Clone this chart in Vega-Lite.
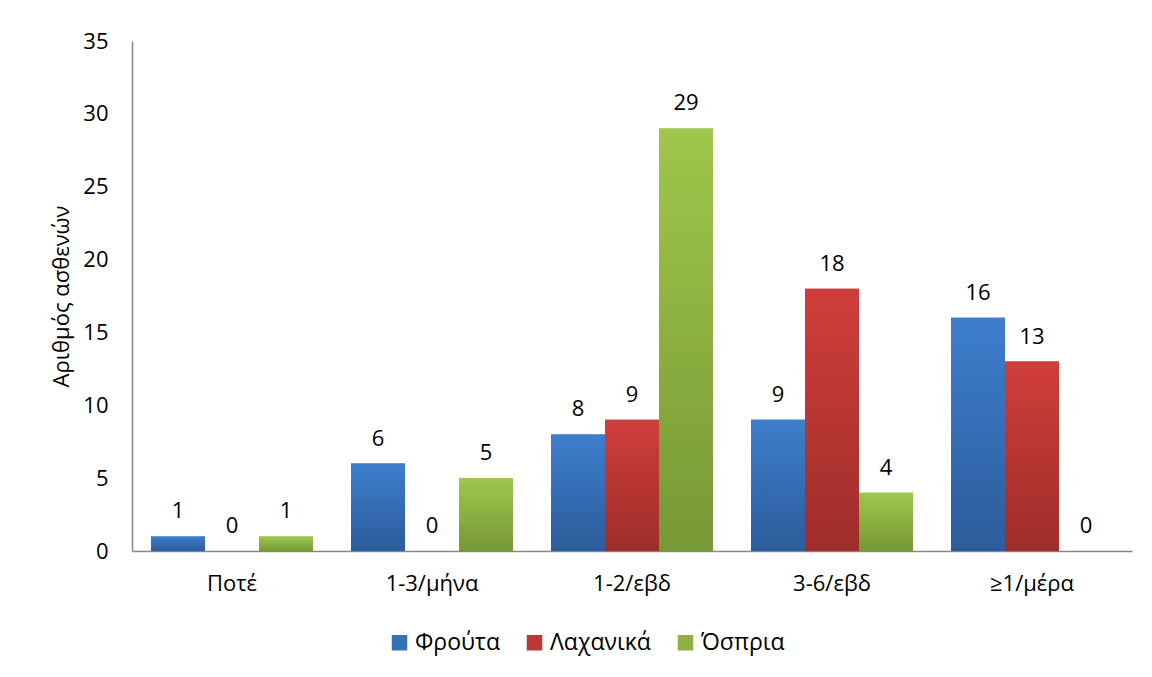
{
  "$schema": "https://vega.github.io/schema/vega-lite/v6.json",
  "width": 1000,
  "height": 510,
  "autosize": "none",
  "padding": {"left": 132, "top": 41, "right": 20, "bottom": 126},
  "background": "white",
  "config": {
    "view": {"stroke": null},
    "font": "Open Sans",
    "axis": {"labelFont": "Open Sans", "titleFont": "Open Sans", "labelColor": "#000000", "titleColor": "#000000"},
    "legend": {"labelFont": "Open Sans"}
  },
  "data": {
    "values": [
      {"category": "Ποτέ", "series": "Φρούτα", "value": 1},
      {"category": "Ποτέ", "series": "Λαχανικά", "value": 0},
      {"category": "Ποτέ", "series": "Όσπρια", "value": 1},
      {"category": "1-3/μήνα", "series": "Φρούτα", "value": 6},
      {"category": "1-3/μήνα", "series": "Λαχανικά", "value": 0},
      {"category": "1-3/μήνα", "series": "Όσπρια", "value": 5},
      {"category": "1-2/εβδ", "series": "Φρούτα", "value": 8},
      {"category": "1-2/εβδ", "series": "Λαχανικά", "value": 9},
      {"category": "1-2/εβδ", "series": "Όσπρια", "value": 29},
      {"category": "3-6/εβδ", "series": "Φρούτα", "value": 9},
      {"category": "3-6/εβδ", "series": "Λαχανικά", "value": 18},
      {"category": "3-6/εβδ", "series": "Όσπρια", "value": 4},
      {"category": "≥1/μέρα", "series": "Φρούτα", "value": 16},
      {"category": "≥1/μέρα", "series": "Λαχανικά", "value": 13},
      {"category": "≥1/μέρα", "series": "Όσπρια", "value": 0}
    ]
  },
  "encoding": {
    "x": {
      "field": "category",
      "type": "nominal",
      "sort": ["Ποτέ", "1-3/μήνα", "1-2/εβδ", "3-6/εβδ", "≥1/μέρα"],
      "scale": {"paddingInner": 0.19, "paddingOuter": 0.095},
      "axis": {
        "title": null,
        "labelAngle": 0,
        "labelFontSize": 22,
        "labelPadding": 22,
        "ticks": false,
        "domainColor": "#868686",
        "domainWidth": 1.5
      }
    },
    "xOffset": {
      "field": "series",
      "type": "nominal",
      "sort": ["Φρούτα", "Λαχανικά", "Όσπρια"],
      "scale": {"paddingInner": 0, "paddingOuter": 0}
    },
    "y": {
      "field": "value",
      "type": "quantitative",
      "scale": {"domain": [0, 35], "nice": false},
      "axis": {
        "title": "Αριθμός ασθενών",
        "titleFontSize": 22,
        "titleFontWeight": "normal",
        "titlePadding": 9,
        "labelFontSize": 22,
        "labelPadding": 24,
        "values": [0, 5, 10, 15, 20, 25, 30, 35],
        "ticks": false,
        "grid": false,
        "domainColor": "#868686",
        "domainWidth": 1.5
      }
    }
  },
  "layer": [
    {
      "mark": {"type": "bar"},
      "encoding": {
        "color": {
          "field": "series",
          "type": "nominal",
          "sort": ["Φρούτα", "Λαχανικά", "Όσπρια"],
          "scale": {
            "domain": ["Φρούτα", "Λαχανικά", "Όσπρια"],
            "range": ["#3670B8", "#BD3835", "#8DB142"]
          },
          "legend": {
            "title": null,
            "orient": "none",
            "legendX": 256,
            "legendY": 590,
            "direction": "horizontal",
            "symbolType": "square",
            "symbolSize": 240,
            "symbolStrokeWidth": 0,
            "symbolOpacity": 1,
            "labelFontSize": 23,
            "labelColor": "#000000",
            "labelOffset": 4,
            "columnPadding": 23
          }
        }
      }
    },
    {
      "transform": [{"filter": "datum.series === 'Φρούτα'"}],
      "mark": {"type": "bar", "fill": {"gradient": "linear", "x1": 0, "y1": 0, "x2": 0, "y2": 1, "stops": [{"offset": 0, "color": "#3D7ECD"}, {"offset": 1, "color": "#2C5C9B"}]}}
    },
    {
      "transform": [{"filter": "datum.series === 'Λαχανικά'"}],
      "mark": {"type": "bar", "fill": {"gradient": "linear", "x1": 0, "y1": 0, "x2": 0, "y2": 1, "stops": [{"offset": 0, "color": "#D03E3B"}, {"offset": 1, "color": "#9E2D2A"}]}}
    },
    {
      "transform": [{"filter": "datum.series === 'Όσπρια'"}],
      "mark": {"type": "bar", "fill": {"gradient": "linear", "x1": 0, "y1": 0, "x2": 0, "y2": 1, "stops": [{"offset": 0, "color": "#9FC74A"}, {"offset": 1, "color": "#769836"}]}}
    },
    {
      "mark": {"type": "text", "baseline": "alphabetic", "dy": -18, "fontSize": 22, "color": "#000000"},
      "encoding": {
        "text": {"field": "value", "type": "quantitative"}
      }
    }
  ]
}
